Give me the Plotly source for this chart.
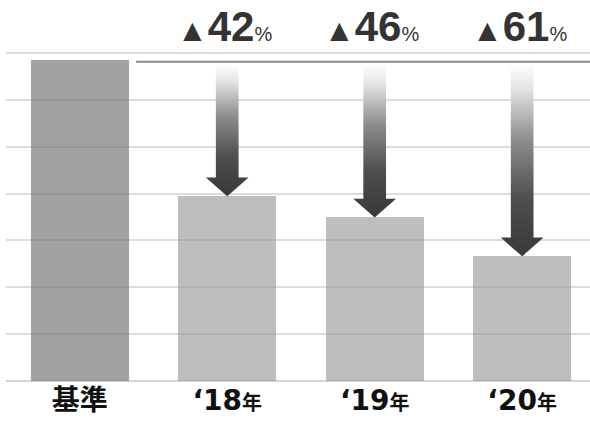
import plotly.graph_objects as go

# ---- data ----
categories = ["基準", "‘18年", "‘19年", "‘20年"]
tick_main = ["基準", "‘18", "‘19", "‘20"]
tick_suffix = ["", "年", "年", "年"]
values = [6.85, 3.94, 3.49, 2.66]
reductions = [None, 42, 46, 61]
bar_colors = ["rgba(118,118,118,0.68)", "rgba(150,150,150,0.62)",
              "rgba(150,150,150,0.62)", "rgba(150,150,150,0.62)"]

TOP_FONT = "Liberation Sans, Noto Sans CJK JP"
TICK_FONT = "DejaVu Sans, Noto Sans CJK JP"
xs = list(range(len(categories)))
bar_w = 0.665

fig = go.Figure()

fig.add_trace(go.Bar(
    x=xs, y=values, width=bar_w,
    marker=dict(color=bar_colors, line=dict(width=0)),
    hoverinfo="skip", showlegend=False,
))

# reference line at the base level
base = values[0]
fig.add_trace(go.Scatter(
    x=[xs[0] + bar_w / 2 + 0.05, xs[-1] + 0.46], y=[base - 0.04, base - 0.04],
    mode="lines", line=dict(color="#8a8a8a", width=2),
    hoverinfo="skip", showlegend=False,
))

# gradient arrows from the base level down to each bar
shaft_hw, head_hw, head_h = 0.077, 0.145, 0.40
for i in range(1, len(categories)):
    cx = xs[i]
    y_top = base - 0.09
    y_tip = values[i]
    yh = y_tip + head_h
    px = [cx - shaft_hw, cx + shaft_hw, cx + shaft_hw, cx + head_hw, cx,
          cx - head_hw, cx - shaft_hw, cx - shaft_hw]
    py = [y_top, y_top, yh, yh, y_tip, yh, yh, y_top]
    fig.add_trace(go.Scatter(
        x=px, y=py, mode="lines", fill="toself",
        line=dict(width=0, color="rgba(0,0,0,0)"),
        fillgradient=dict(type="vertical",
                          colorscale=[[0, "#383838"], [0.3, "#4e4e4e"], [0.6, "#8c8c8c"],
                                      [0.88, "#e6e6e6"], [1, "#ffffff"]]),
        hoverinfo="skip", showlegend=False,
    ))
    fig.add_annotation(
        x=cx - 0.02, y=7.56, xref="x", yref="y", showarrow=False,
        yanchor="middle", xanchor="center",
        text=("<span style='font-size:31px'>▲</span><b>%d</b>"
              "<span style='font-size:20px'>%%</span>") % reductions[i],
        font=dict(family=TOP_FONT, size=42, color="#333333"),
    )

ticktext = [
    "<b>%s</b>" % m if not s else
    "<b>%s<span style='font-size:20px'>%s</span></b>" % (m, s)
    for m, s in zip(tick_main, tick_suffix)
]

fig.update_layout(
    width=590, height=421,
    margin=dict(l=6, r=0, t=6, b=40),
    paper_bgcolor="white", plot_bgcolor="white",
    bargap=0,
    xaxis=dict(
        range=[-0.5, 3.46], tickvals=xs, ticktext=ticktext,
        showgrid=False, zeroline=False, showline=False, ticks="",
        tickfont=dict(family=TICK_FONT, size=28, color="#111111"),
        fixedrange=True,
    ),
    yaxis=dict(
        range=[0, 8], dtick=1, showticklabels=False,
        showgrid=True, gridcolor="#dcdcdc", gridwidth=1.5,
        zeroline=True, zerolinecolor="#d4d4d4", zerolinewidth=1.5,
        showline=False, ticks="", fixedrange=True,
    ),
)

fig.write_html("out.html")
